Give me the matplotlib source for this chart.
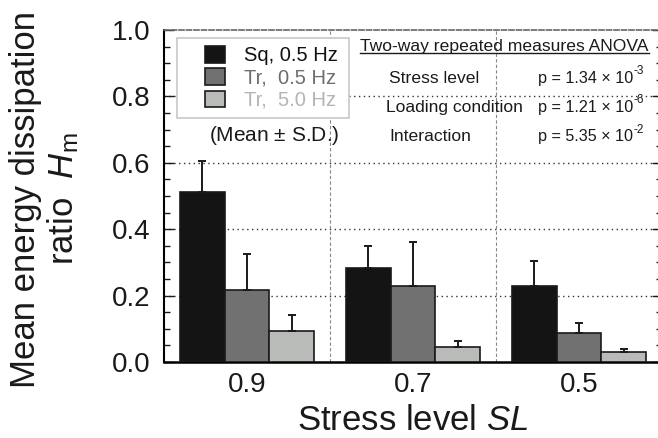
import numpy as np
import matplotlib
matplotlib.use("Agg")
import matplotlib.pyplot as plt
from matplotlib.patches import Rectangle

plt.rcParams['font.family'] = ['Liberation Sans', 'DejaVu Sans']
plt.rcParams['mathtext.fontset'] = 'custom'
plt.rcParams['mathtext.rm'] = 'Liberation Sans'
plt.rcParams['mathtext.it'] = 'Liberation Sans:italic'

stress = ['0.9', '0.7', '0.5']
series = ['Sq, 0.5 Hz', 'Tr,  0.5 Hz', 'Tr,  5.0 Hz']
means = [[0.513, 0.284, 0.230],
         [0.216, 0.230, 0.088],
         [0.092, 0.044, 0.030]]
sds = [[0.092, 0.065, 0.074],
       [0.108, 0.131, 0.030],
       [0.051, 0.020, 0.010]]
colors = ['#141414', '#717171', '#b9bbb9']
text_colors = ['#111111', '#6e6e6e', '#b4b4b4']

stat_names = ['Stress level', 'Loading condition', 'Interaction']
stat_p = ['p = 1.34 \u00d7 10', 'p = 1.21 \u00d7 10', 'p = 5.35 \u00d7 10']
stat_exp = ['-3', '-6', '-2']

fig = plt.figure(figsize=(6.58, 4.38), dpi=100)
ax = fig.add_axes([164/658, 76/438, 498/658, 332/438])

x = np.arange(len(stress))
w = 0.271
for i in range(3):
    ax.bar(x + (i - 1) * w, means[i], w, color=colors[i], edgecolor='#1a1a1a',
           linewidth=1.2, label=series[i], zorder=3)
    ax.errorbar(x + (i - 1) * w, means[i], yerr=[np.zeros(3), sds[i]], fmt='none',
                ecolor='#1a1a1a', elinewidth=1.4, capsize=3.2, capthick=1.4, zorder=4)

ax.set_xlim(-0.5, 2.5)
ax.set_ylim(0, 1.0)
ax.set_xticks(x)
ax.set_xticklabels(stress, fontsize=20)
ax.set_yticks(np.arange(0, 1.01, 0.2))
ax.set_yticklabels(['%.1f' % v for v in np.arange(0, 1.01, 0.2)], fontsize=20)
ax.set_yticks(np.arange(0, 1.01, 0.05), minor=True)
ax.tick_params(axis='x', length=0, pad=7, colors='#1a1a1a')
ax.tick_params(axis='y', which='both', direction='in', left=True, right=True,
               colors='#1a1a1a', pad=10)
ax.tick_params(axis='y', which='major', length=7, width=1)
ax.tick_params(axis='y', which='minor', length=4.5, width=1)

# grid
for yv in [0.2, 0.4, 0.6, 0.8]:
    ax.axhline(yv, color='#333333', lw=1.0, ls=(0, (1, 2.5)), zorder=1)
for xv in [0.5, 1.5]:
    ax.axvline(xv, color='#888888', lw=0.8, ls=(0, (3, 2)), zorder=1)

ax.spines['left'].set_linewidth(1.5)
ax.spines['bottom'].set_linewidth(1.8)
ax.spines['top'].set_linestyle((0, (3, 1.5)))
ax.spines['top'].set_color('#666666')
ax.spines['top'].set_linewidth(1.2)
ax.spines['right'].set_visible(False)

# legend
ax.add_patch(Rectangle((0.0255, 0.734), 0.345, 0.241, transform=ax.transAxes,
                       facecolor='white', edgecolor='#c8c8c8', lw=1.2, zorder=5))
leg = ax.legend(loc='upper left', bbox_to_anchor=(0.082, 0.952), frameon=False,
                fontsize=14.5, handlelength=1.0, handleheight=0.9,
                handletextpad=0.95, labelspacing=0.15, borderpad=0,
                borderaxespad=0, labelcolor=text_colors)
leg.set_zorder(6)
ax.text(0.090, 0.681, r'(Mean $\pm$ S.D.)', transform=ax.transAxes, fontsize=15,
        va='center', ha='left', color='#1a1a1a', zorder=6)

# ANOVA results
title = ax.text(0.394, 0.950, 'Two-way repeated measures ANOVA', transform=ax.transAxes,
                fontsize=12.6, va='center', ha='left', color='#1a1a1a', zorder=6)
ys = [0.855, 0.768, 0.678]
xs = [0.452, 0.446, 0.452]
ptexts = []
for name, p, yy, xx in zip(stat_names, stat_p, ys, xs):
    ax.text(xx, yy, name, transform=ax.transAxes, fontsize=12.6, va='center',
            ha='left', color='#1a1a1a', zorder=6)
    ptexts.append(ax.text(0.751, yy, p, transform=ax.transAxes, fontsize=11.6,
                          va='center', ha='left', color='#1a1a1a', zorder=6))

fig.canvas.draw()
inv = ax.transAxes.inverted()
bb = title.get_window_extent().transformed(inv)
ax.plot([bb.x0, bb.x1], [bb.y0 + 0.004, bb.y0 + 0.004], transform=ax.transAxes,
        color='#1a1a1a', lw=1.0, zorder=6, clip_on=False)
for t, e, yy in zip(ptexts, stat_exp, ys):
    pb = t.get_window_extent().transformed(inv)
    ax.text(pb.x1 + 0.001, yy + 0.021, e, transform=ax.transAxes, fontsize=8.5,
            va='center', ha='left', color='#1a1a1a', zorder=6)

fig.text(45/658, 1 - 199/438, 'Mean energy dissipation\nratio  $H_{\\mathrm{m}}$',
         rotation=90, ha='center', va='center', multialignment='center',
         fontsize=25, color='#1a1a1a', linespacing=1.15)
fig.text(413/658, 1 - 420/438, 'Stress level $SL$', ha='center', va='center',
         fontsize=25, color='#1a1a1a')

fig.savefig('out.png', dpi=100)
